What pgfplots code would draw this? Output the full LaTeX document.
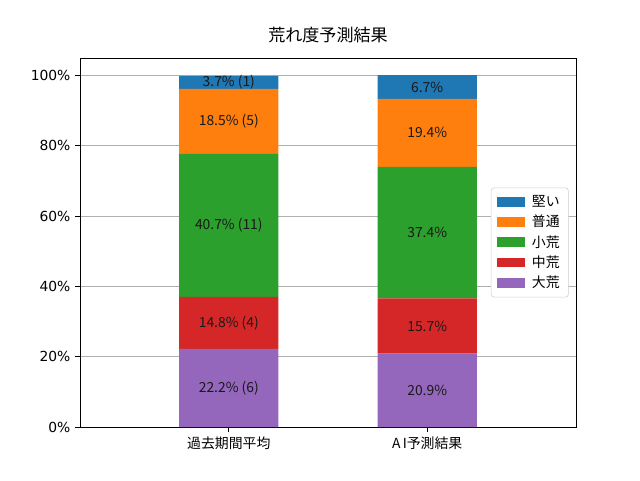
\documentclass[border=0pt]{standalone}
\usepackage{fontspec}
\setmainfont{DejaVu Sans}
\newfontfamily\jp{Noto Sans CJK JP}
\usepackage{pgfplots}
\pgfplotsset{compat=1.18}
\definecolor{tabblue}{HTML}{1F77B4}
\definecolor{taborange}{HTML}{FF7F0E}
\definecolor{tabgreen}{HTML}{2CA02C}
\definecolor{tabred}{HTML}{D62728}
\definecolor{tabpurple}{HTML}{9467BD}
\begin{document}
\begin{tikzpicture}
\useasboundingbox (0,0) rectangle (480pt,360pt);
\begin{axis}[
  at={(60pt,39.75pt)}, anchor=south west,
  scale only axis, width=372pt, height=276.75pt,
  ybar stacked, bar width=0.5,
  xmin=-0.75, xmax=1.75, ymin=0, ymax=105,
  xtick={0,1}, xticklabels={{\jp 過去期間平均},{\jp A\,I予測結果}},
  ytick={0,20,40,60,80,100},
  yticklabel={\pgfmathprintnumber{\tick}\%},
  /pgf/number format/assume math mode=true,
  ymajorgrids, grid style={color=black!31, line width=0.6pt},
  axis line style={line width=0.6pt},
  tick style={black, line width=0.6pt},
  tick align=outside, major tick length=3.65pt, tick pos=left,
  tick label style={font=\fontsize{10.4}{12}\selectfont},
  title={\jp 荒れ度予測結果},
  title style={at={(0.5,1)}, anchor=base, yshift=6.5pt, font=\fontsize{12.8}{14}\selectfont},
  legend style={at={(rel axis cs:0.985,0.5)}, anchor=east, draw=black!20, rounded corners=2pt,
    fill=white, font=\fontsize{10.4}{12}\selectfont\jp, row sep=1pt, inner xsep=4.5pt, inner ysep=3.5pt,
    /tikz/every odd column/.append style={column sep=3pt}},
  reverse legend,
  legend image code/.code={\fill[#1,draw=none,sharp corners] (0pt,-3.6pt) rectangle (21pt,3.6pt);},
  nodes near coords, point meta=explicit symbolic,
  every node near coord/.append style={anchor=center,
    font=\fontsize{10.4}{12}\selectfont\jp, text=black!90},
]
\addplot[fill=tabpurple, draw=none] coordinates {(0,22.2) [22.2\% (6)] (1,20.9) [20.9\%]};
\addlegendentry{大荒}
\addplot[fill=tabred, draw=none] coordinates {(0,14.8) [14.8\% (4)] (1,15.7) [15.7\%]};
\addlegendentry{中荒}
\addplot[fill=tabgreen, draw=none] coordinates {(0,40.7) [40.7\% (11)] (1,37.4) [37.4\%]};
\addlegendentry{小荒}
\addplot[fill=taborange, draw=none] coordinates {(0,18.5) [18.5\% (5)] (1,19.4) [19.4\%]};
\addlegendentry{普通}
\addplot[fill=tabblue, draw=none] coordinates {(0,3.7) [3.7\% (1)] (1,6.7) [6.7\%]};
\addlegendentry{堅い}
\end{axis}
\end{tikzpicture}
\end{document}
